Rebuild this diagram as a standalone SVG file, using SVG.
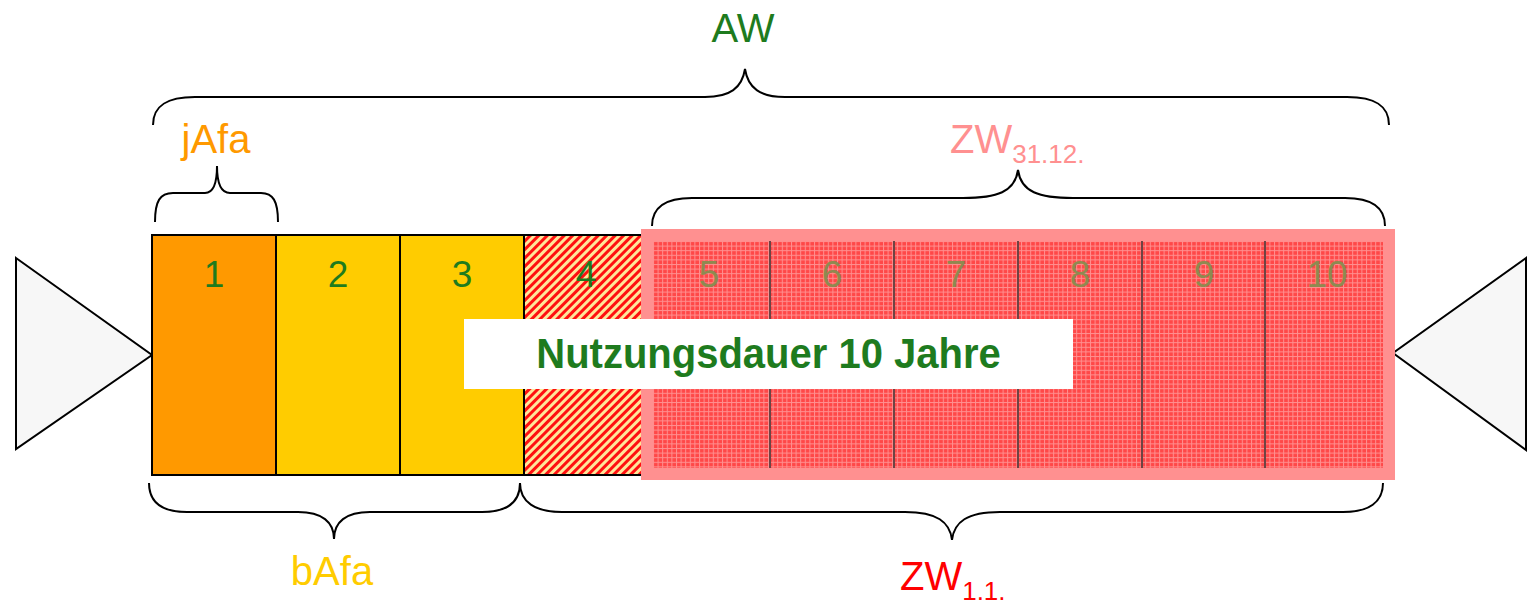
<svg xmlns="http://www.w3.org/2000/svg" width="1536" height="613" viewBox="0 0 1536 613">
<style>
  .lbl { font-family: "Liberation Sans", Arial, sans-serif; font-size: 40px; text-anchor: middle; }
  .sub { font-family: "Liberation Sans", Arial, sans-serif; font-size: 26px; }
  .num { font-family: "Liberation Sans", Arial, sans-serif; font-size: 37px; text-anchor: middle; fill: #1E7B1E; }
  .numr { font-family: "Liberation Sans", Arial, sans-serif; font-size: 37px; text-anchor: middle; fill: #8E8A50; }
  .cell { stroke: #000; stroke-width: 2; }
  .brace { fill: none; stroke: #000; stroke-width: 2; }
  .tri { fill: #F7F7F7; stroke: #000; stroke-width: 2; stroke-linejoin: miter; }
  .div { stroke: #6E4444; stroke-width: 2; }
</style>
<defs>
  <pattern id="hatch" patternUnits="userSpaceOnUse" width="6" height="6" patternTransform="rotate(45)">
    <rect x="0" y="0" width="6" height="6" fill="#FFE699"/>
    <rect x="0" y="0" width="3" height="6" fill="#FF1010"/>
  </pattern>
  <pattern id="grid" patternUnits="userSpaceOnUse" width="4.6" height="4.6" x="653" y="241">
    <rect x="0" y="0" width="4.6" height="4.6" fill="#FF4848"/>
    <rect x="0" y="0" width="1" height="4.6" fill="#FF9090"/>
    <rect x="0" y="0" width="4.6" height="1" fill="#FF9090"/>
  </pattern>
</defs>
<rect width="1536" height="613" fill="#FFFFFF"/>

<g id="triangle-left"><polygon class="tri" points="16,258 152,355 16,449"/></g>
<g id="triangle-right"><polygon class="tri" points="1526,258 1393,353 1526,450"/></g>

<g id="cell1"><rect class="cell" x="152" y="235" width="124" height="240" fill="#FF9900"/><text class="num" x="214" y="287">1</text></g>
<g id="cell2"><rect class="cell" x="276" y="235" width="124" height="240" fill="#FFCC00"/><text class="num" x="338" y="287">2</text></g>
<g id="cell3"><rect class="cell" x="400" y="235" width="124" height="240" fill="#FFCC00"/><text class="num" x="462" y="287">3</text></g>
<g id="cell4"><rect class="cell" x="524" y="235" width="124" height="240" fill="url(#hatch)"/><text class="num" x="586" y="287">4</text></g>

<g id="zw-area">
  <rect x="647" y="235" width="742" height="239" fill="url(#grid)" stroke="#FF9090" stroke-width="12"/>
  <line class="div" x1="770" y1="241" x2="770" y2="468"/>
  <line class="div" x1="894" y1="241" x2="894" y2="468"/>
  <line class="div" x1="1018" y1="241" x2="1018" y2="468"/>
  <line class="div" x1="1142" y1="241" x2="1142" y2="468"/>
  <line class="div" x1="1265" y1="241" x2="1265" y2="468"/>
  <text class="numr" x="709" y="287">5</text>
  <text class="numr" x="832" y="287">6</text>
  <text class="numr" x="956" y="287">7</text>
  <text class="numr" x="1080" y="287">8</text>
  <text class="numr" x="1204" y="287">9</text>
  <text class="numr" x="1327" y="287">10</text>
</g>

<g id="nutzungsdauer">
  <rect x="464" y="319" width="609" height="70" fill="#FFFFFF"/>
  <text transform="translate(768.5,368) scale(1,1.08)" x="0" y="0" font-family="Liberation Sans, Arial, sans-serif" font-size="40" font-weight="bold" text-anchor="middle" fill="#1E7B1E">Nutzungsdauer 10 Jahre</text>
</g>

<g id="connectors">
  <path class="brace" d="M153,125 C153,105 168,97 195,97 L705,97 C730,97 742,88 745,69 C748,88 760,97 785,97 L1347,97 C1374,97 1389,105 1389,125"/>
  <path class="brace" d="M155,222 C155,201 160,193 173,193 L205,193 C212,193 217,186 217,166 C217,186 222,193 230,193 L261,193 C273,193 278,201 278,222"/>
  <path class="brace" d="M652,226 C652,208 665,198 692,198 L963,198 C997,198 1015,192 1018,170 C1021,192 1039,198 1073,198 L1345,198 C1372,198 1385,208 1385,226"/>
  <path class="brace" d="M149,483 C149,502 162,512 187,512 L298,512 C322,512 334,522 334,539 C334,522 346,512 370,512 L482,512 C507,512 520,502 520,483"/>
  <path class="brace" d="M520,483 C520,502 535,512 562,512 L905,512 C937,512 950,522 952,540 C954,522 967,512 1000,512 L1343,512 C1369,512 1383,502 1383,483"/>
</g>

<g id="label-aw"><text class="lbl" x="743" y="42" fill="#1E7B1E">AW</text></g>
<g id="label-jafa"><text class="lbl" x="216" y="153" fill="#FF9900">jAfa</text></g>
<g id="label-zw3112"><text x="950" y="153" font-family="Liberation Sans, Arial, sans-serif" font-size="40" fill="#FF9090">ZW<tspan class="sub" dy="10">31.12.</tspan></text></g>
<g id="label-bafa"><text class="lbl" x="332" y="585" fill="#FFCC00">bAfa</text></g>
<g id="label-zw11"><text x="900" y="590" font-family="Liberation Sans, Arial, sans-serif" font-size="40" fill="#FF0000">ZW<tspan class="sub" dy="10">1.1.</tspan></text></g>
</svg>
